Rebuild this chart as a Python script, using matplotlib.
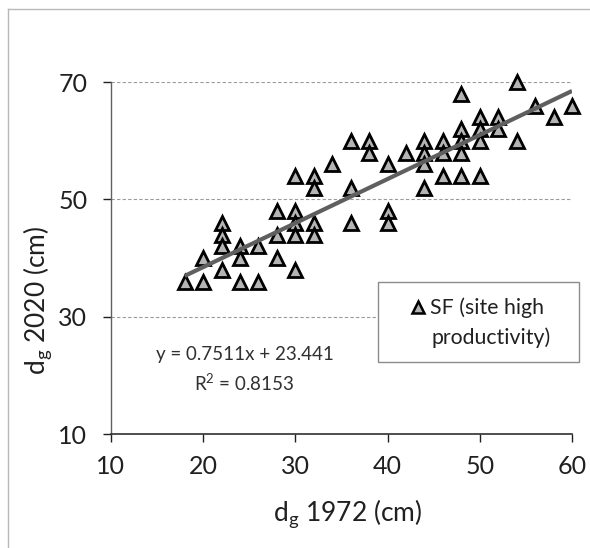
import numpy as np
import matplotlib
matplotlib.use('Agg')
import matplotlib.pyplot as plt
from matplotlib.patches import Rectangle
from matplotlib.lines import Line2D

plt.rcParams['font.family'] = ['Lato', 'DejaVu Sans']

# mean stand diameter in 1972 and 2020 (cm), site SF
dg_1972 = [18,
           20, 20,
           22, 22, 22, 22,
           24, 24, 24,
           26, 26,
           28, 28, 28,
           30, 30, 30, 30, 30,
           32, 32, 32, 32,
           34,
           36, 36, 36,
           38, 38,
           40, 40, 40,
           42,
           44, 44, 44, 44,
           46, 46, 46,
           48, 48, 48, 48, 48,
           50, 50, 50, 50,
           52, 52,
           54, 54,
           56,
           58,
           60]
dg_2020 = [36,
           36, 40,
           46, 44, 42, 38,
           42, 40, 36,
           42, 36,
           48, 44, 40,
           54, 48, 46, 44, 38,
           54, 52, 46, 44,
           56,
           60, 52, 46,
           60, 58,
           56, 48, 46,
           58,
           60, 58, 56, 52,
           60, 58, 54,
           68, 62, 60, 58, 54,
           64, 62, 60, 54,
           64, 62,
           70, 60,
           66,
           64,
           66]

slope = 0.7511
intercept = 23.441
r2 = 0.8153
x_ticks = [10, 20, 30, 40, 50, 60]
y_ticks = [10, 30, 50, 70]

fig = plt.figure(figsize=(5.9, 5.48), dpi=100)
ax = fig.add_axes([0.188, 0.208, 0.7815, 0.642])

# light frame round the chart
fig.add_artist(Line2D([8 / 590, 8 / 590], [0, 1 - 9 / 548], color='#b8b8b8', lw=1.0))
fig.add_artist(Line2D([8 / 590, 1], [1 - 9 / 548, 1 - 9 / 548], color='#b8b8b8', lw=1.0))

for yv in y_ticks[1:]:
    ax.axhline(yv, color='#9a9a9a', lw=0.8, ls=(0, (3, 2)), zorder=0)

ax.plot(dg_1972, dg_2020, '^', ms=9.5, mfc='#b4b4b4', mec='black', mew=2.0,
        ls='none', zorder=3, clip_on=False)

xf = np.array([min(dg_1972), max(dg_1972)])
ax.plot(xf, slope * xf + intercept, color='#5f5f5f', lw=3.0, zorder=4,
        solid_capstyle='butt')

ax.set_xlim(10, 60)
ax.set_ylim(10, 70)
ax.set_xticks(x_ticks)
ax.set_yticks(y_ticks)
for side in ['top', 'right']:
    ax.spines[side].set_visible(False)
ax.spines['left'].set_color('#606060')
ax.spines['bottom'].set_color('#303030')
ax.spines['left'].set_linewidth(1.0)
ax.spines['bottom'].set_linewidth(1.2)
ax.tick_params(axis='both', direction='out', length=6, width=1.0,
               labelsize=18, colors='#202020')
ax.tick_params(axis='x', pad=9)
ax.tick_params(axis='y', pad=11)

fig.text(348 / 590, 1 - 514 / 548, r'd$_\mathregular{g}$ 1972 (cm)', fontsize=19,
         color='#202020', ha='center', va='center')
fig.text(38 / 590, 1 - 300 / 548, r'd$_\mathregular{g}$ 2020 (cm)', fontsize=19,
         color='#202020', ha='center', va='center', rotation=90)

ax.text(24.5, 23.5, 'y = %.4fx + %.3f' % (slope, intercept), fontsize=13.5,
        color='#303030', ha='center', va='center')
ax.text(24.5, 18.7, r'R$^\mathregular{2}$ = %.4f' % r2, fontsize=13.5,
        color='#303030', ha='center', va='center')

# legend box
ax.add_patch(Rectangle((0.579, 0.2045), 0.436, 0.2275, transform=ax.transAxes,
                       facecolor='white', edgecolor='#8c8c8c', lw=1.0,
                       clip_on=False, zorder=5))
ax.plot([0.666], [0.360], '^', ms=8, mfc='#b4b4b4', mec='black', mew=1.8,
        transform=ax.transAxes, clip_on=False, zorder=6)
ax.text(0.692, 0.360, 'SF (site high', transform=ax.transAxes, fontsize=15.3,
        color='#202020', ha='left', va='center', zorder=6)
ax.text(0.696, 0.275, 'productivity)', transform=ax.transAxes, fontsize=15.3,
        color='#202020', ha='left', va='center', zorder=6)

fig.savefig('out.png', dpi=100)
